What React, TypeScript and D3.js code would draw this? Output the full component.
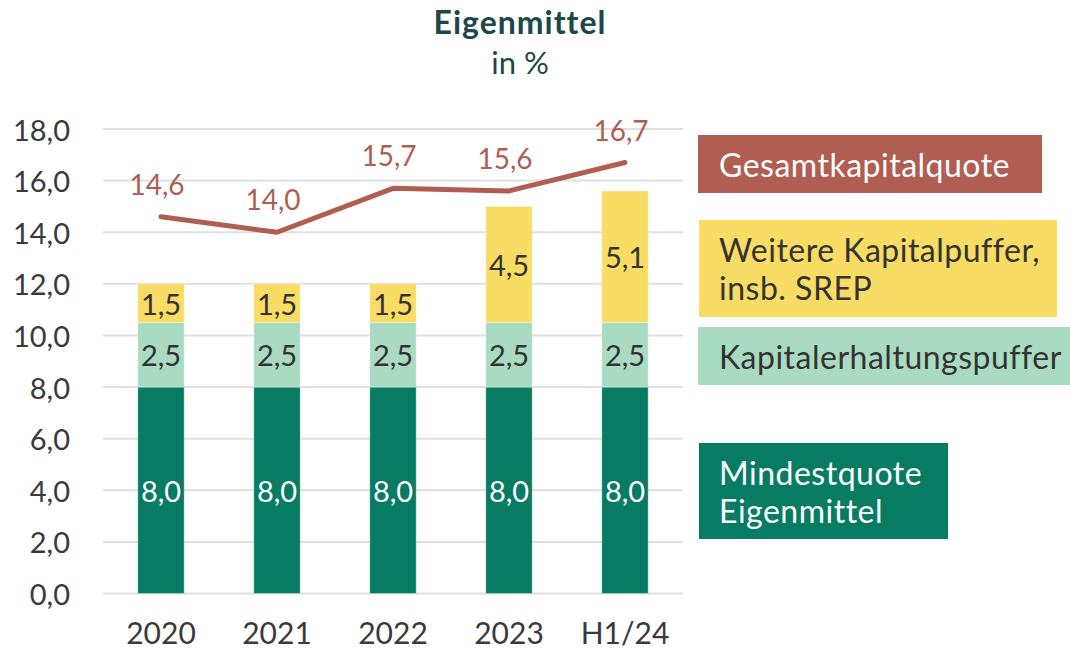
import React from "react";
import * as d3 from "d3";

const categories = ["2020", "2021", "2022", "2023", "H1/24"];
const mindestquote = [8.0, 8.0, 8.0, 8.0, 8.0];
const kapitalerhaltung = [2.5, 2.5, 2.5, 2.5, 2.5];
const weiterePuffer = [1.5, 1.5, 1.5, 4.5, 5.1];
const gesamtkapitalquote = [14.6, 14.0, 15.7, 15.6, 16.7];
const yTicks = [0, 2, 4, 6, 8, 10, 12, 14, 16, 18];

const C_DARK = "#087C62";
const C_LIGHT = "#A9DBC3";
const C_YELLOW = "#F9DC64";
const C_RED = "#B05E52";
const FONT = "Lato, 'Open Sans', sans-serif";

const fmt = (v: number) => v.toFixed(1).replace(".", ",");

export default function App() {
  const W = 1070, H = 651;
  const x = d3.scaleBand<string>().domain(categories).range([103, 683]).paddingInner(0.6).paddingOuter(0.3);
  const y = d3.scaleLinear().domain([0, 18]).range([593.5, 129]);
  const bw = x.bandwidth();
  const cx = (c: string) => (x(c) as number) + bw / 2;

  const series = [
    { values: mindestquote, color: C_DARK, text: "#ffffff" },
    { values: kapitalerhaltung, color: C_LIGHT, text: "#333333" },
    { values: weiterePuffer, color: C_YELLOW, text: "#333333" },
  ];

  const line = d3
    .line<number>()
    .x((_, i) => cx(categories[i]))
    .y((d) => y(d));

  const legend = [
    { lines: ["Gesamtkapitalquote"], color: C_RED, text: "#ffffff", x0: 698, x1: 1042, y0: 135, y1: 193 },
    { lines: ["Weitere Kapitalpuffer,", "insb. SREP"], color: C_YELLOW, text: "#333333", x0: 699, x1: 1057, y0: 220, y1: 317 },
    { lines: ["Kapitalerhaltungspuffer"], color: C_LIGHT, text: "#333333", x0: 698, x1: 1070, y0: 327, y1: 385 },
    { lines: ["Mindestquote", "Eigenmittel"], color: C_DARK, text: "#ffffff", x0: 699, x1: 948, y0: 443, y1: 539 },
  ];

  return (
    <svg width={W} height={H} style={{ position: "absolute", left: 0, top: 0, background: "#fff" }} fontFamily={FONT}>
      <text x={520} y={34} textAnchor="middle" fontSize={32} fontWeight={700} letterSpacing={1} fill="#1E4747">Eigenmittel</text>
      <text x={520} y={74} textAnchor="middle" fontSize={31} fill="#1E4747">in %</text>

      {yTicks.map((t) => (
        <g key={t}>
          <line x1={103} x2={683} y1={y(t)} y2={y(t)} stroke="#E0E0E0" strokeWidth={2} />
          <text x={70} y={y(t)} textAnchor="end" dominantBaseline="central" fontSize={29} fill="#3a3a3a">{fmt(t)}</text>
        </g>
      ))}

      {categories.map((c, i) => {
        let base = 0;
        return (
          <g key={c}>
            {series.map((s, k) => {
              const v = s.values[i];
              const y0 = y(base), y1 = y(base + v);
              base += v;
              return (
                <g key={k}>
                  <rect x={x(c)} y={y1} width={bw} height={y0 - y1} fill={s.color} stroke="#ffffff" strokeOpacity={0.35} strokeWidth={1} />
                  <text x={cx(c)} y={(y0 + y1) / 2} textAnchor="middle" dominantBaseline="central" fontSize={29} fill={s.text}>{fmt(v)}</text>
                </g>
              );
            })}
            <text x={cx(c)} y={644} textAnchor="middle" fontSize={30} fill="#3a3a3a">{c}</text>
          </g>
        );
      })}

      <path d={line(gesamtkapitalquote) || ""} fill="none" stroke={C_RED} strokeWidth={5} strokeLinecap="round" strokeLinejoin="round" />
      {gesamtkapitalquote.map((v, i) => (
        <text key={i} x={cx(categories[i]) - 4} y={y(v) - 22} textAnchor="middle" fontSize={28} fill={C_RED}>{fmt(v)}</text>
      ))}

      {legend.map((l, i) => {
        const n = l.lines.length;
        const mid = (l.y0 + l.y1) / 2;
        const lh = 38;
        return (
          <g key={i}>
            <rect x={l.x0} y={l.y0} width={l.x1 - l.x0} height={l.y1 - l.y0} fill={l.color} />
            {l.lines.map((t, j) => (
              <text key={j} x={719} y={mid + (j - (n - 1) / 2) * lh} dominantBaseline="central" fontSize={32} letterSpacing={0.5} fill={l.text}>{t}</text>
            ))}
          </g>
        );
      })}
    </svg>
  );
}
